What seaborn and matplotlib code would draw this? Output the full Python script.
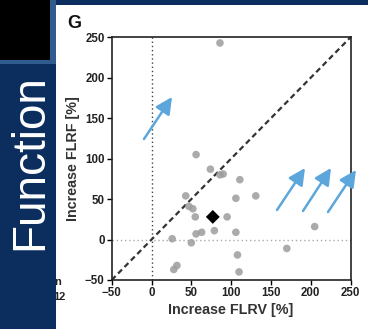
"""
Panel G: increase FLRF vs increase FLRV, redrawn with seaborn.
"""
import matplotlib
matplotlib.use("Agg")
import matplotlib.pyplot as plt
import seaborn as sns
import pandas as pd
from matplotlib.patches import Rectangle

# individual subjects (%)
flrv = [56, 74, 86, 90, 111, 43, 106, 131, 47, 52, 55, 95, 56, 63, 79, 106,
        26, 50, 170, 205, 108, 32, 28, 110, 86]
flrf = [105, 87, 80, 81, 74, 54, 51, 54, 41, 38, 28, 28, 7, 9, 11, 9,
        1, -4, -11, 16, -19, -32, -37, -40, 243]
# group mean
mean_flrv = [77]
mean_flrf = [28]
identity = [-50, 250]
ticks = [-50, 0, 50, 100, 150, 200, 250]

sns.set_theme(style="ticks")
plt.rcParams["font.family"] = ["Liberation Sans", "DejaVu Sans"]

W, H = 368, 329
NAVY = "#0b2e5f"
ARROW = "#5ca6dc"


def fx(px):
    return px / W


def fy(py):
    return 1 - py / H


fig = plt.figure(figsize=(W / 100, H / 100), dpi=100)
fig.patch.set_facecolor("white")

ax = fig.add_axes([fx(111.7), fy(280), fx(350.5) - fx(111.7), fy(37.3) - fy(280)])

df = pd.DataFrame({"FLRV": flrv, "FLRF": flrf})
mean_df = pd.DataFrame({"FLRV": mean_flrv, "FLRF": mean_flrf})

ax.axvline(0, color="#444444", lw=1.0, ls=(0, (1, 2)), zorder=1)
ax.axhline(0, color="#aaaaaa", lw=1.0, ls=(0, (1, 2)), zorder=1)
sns.lineplot(x=identity, y=identity, ax=ax, color="#333333", lw=1.6,
             dashes=False, zorder=2).lines[-1].set_linestyle((0, (2.5, 1.6)))
sns.scatterplot(data=df, x="FLRV", y="FLRF", ax=ax, s=30, color="#9c9c9c",
                edgecolor="none", alpha=0.85, zorder=3)
sns.scatterplot(data=mean_df, x="FLRV", y="FLRF", ax=ax, s=50, marker="D",
                color="black", edgecolor="none", zorder=4)

ax.set_xlim(-50, 250)
ax.set_ylim(-50, 250)
ax.set_xticks(ticks)
ax.set_yticks(ticks)
ax.tick_params(length=3.5, width=1.0, pad=1.5, labelsize=8.3, color="black")
for lab in ax.get_xticklabels() + ax.get_yticklabels():
    lab.set_fontweight("bold")
    lab.set_color("#222222")
for s in ax.spines.values():
    s.set_visible(True)
    s.set_linewidth(1.2)
    s.set_color("#222222")

ax.set_xlabel("Increase FLRV [%]", fontsize=10.3, fontweight="bold", color="#333333")
ax.set_ylabel("Increase FLRF [%]", fontsize=10.3, fontweight="bold", color="#333333")
ax.xaxis.set_label_coords(0.5, -0.095)
ax.yaxis.set_label_coords(-0.132, 0.5)

# panel letter and cut-off neighbour labels
fig.text(fx(67), fy(28), "G", fontsize=13, fontweight="bold", color="#111111",
         ha="left", va="baseline")
fig.text(fx(66), fy(300), "12", fontsize=8, fontweight="bold", color="#222222",
         ha="right", va="baseline", zorder=1)
fig.text(fx(61), fy(285), "n", fontsize=8, fontweight="bold", color="#222222",
         ha="right", va="baseline", zorder=1)

# left slide band
fig.add_artist(Rectangle((0, 0), fx(55.5), 1, transform=fig.transFigure,
                         facecolor=NAVY, edgecolor="none", zorder=5))
fig.add_artist(Rectangle((0, fy(63.5)), fx(55.5), 63.5 / H, transform=fig.transFigure,
                         facecolor="#2f5b8d", edgecolor="none", zorder=6))
fig.add_artist(Rectangle((0, fy(60)), fx(50), 60 / H, transform=fig.transFigure,
                         facecolor="black", edgecolor="none", zorder=7))
fig.add_artist(Rectangle((fx(55.5), fy(4.7)), 1 - fx(55.5), 4.7 / H,
                         transform=fig.transFigure, facecolor=NAVY,
                         edgecolor="none", zorder=5))
fig.text(fx(30), fy(162), "Function", rotation=90, color="white", fontsize=33,
         ha="center", va="center", zorder=8)

# highlight arrows (tail -> tip, in image pixels)
arrows = [((144, 139), (172, 97)), ((277, 210), (305, 168)),
          ((303, 211), (331, 168)), ((328, 212), (356, 170))]
for (tx, ty), (hx, hy) in arrows:
    ax.annotate("", xy=(hx, H - hy), xytext=(tx, H - ty),
                xycoords="figure pixels", textcoords="figure pixels",
                arrowprops=dict(arrowstyle="-|>,head_length=1.0,head_width=0.5",
                                color=ARROW, lw=1.8, mutation_scale=10,
                                shrinkA=0, shrinkB=0),
                annotation_clip=False, zorder=10)

fig.savefig("out.png", dpi=100)
